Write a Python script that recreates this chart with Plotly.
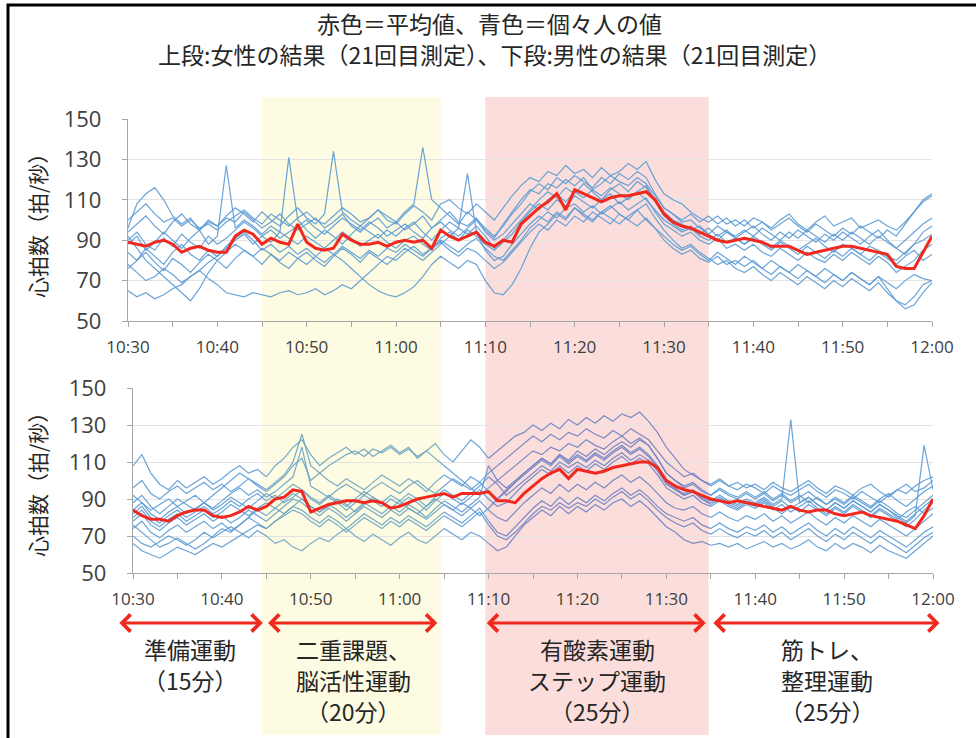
import plotly.graph_objects as go

# ---------------------------------------------------------------
# Heart-rate records, one value per minute from 10:30 (minute 0) to 12:00 (minute 90)
# ---------------------------------------------------------------
minutes = list(range(91))
tick_minutes = [0, 5, 10, 15, 20, 25, 30, 35, 40, 45, 50, 55, 60, 65, 70, 75, 80, 85, 90]
tick_labels = ["10:30", "", "10:40", "", "10:50", "", "11:00", "", "11:10", "",
               "11:20", "", "11:30", "", "11:40", "", "11:50", "", "12:00"]
y_ticks = [50, 70, 90, 110, 130, 150]

# Women (upper panel) – average
female_mean = [89, 88, 87, 89, 90, 88, 84, 86, 87, 85,
               84, 84, 92, 95, 93, 88, 91, 89, 88, 98,
               89, 86, 85, 86, 93, 90, 88, 88, 89, 87,
               89, 90, 89, 90, 86, 95, 92, 90, 92, 94,
               89, 87, 90, 89, 98, 102, 106, 109, 113, 105,
               115, 113, 111, 109, 111, 112, 112, 113, 114, 110,
               103, 99, 97, 96, 94, 92, 90, 89, 90, 91,
               90, 89, 87, 87, 87, 85, 83, 84, 85, 86,
               87, 87, 86, 85, 84, 83, 77, 76, 76, 84, 92]

# Women – individuals
female_01 = [100, 104, 108, 103, 99, 101, 97, 100, 96, 98,
             95, 99, 102, 105, 101, 98, 103, 100, 97, 101,
             104, 100, 98, 102, 106, 103, 99, 101, 105, 100,
             98, 103, 107, 104, 100, 108, 110, 106, 103, 108,
             104, 100, 106, 112, 117, 121, 119, 124, 122, 127,
             123, 125, 121, 126, 122, 124, 128, 125, 129, 120,
             113, 110, 108, 104, 101, 99, 102, 98, 100, 97,
             101, 99, 96, 100, 103, 98, 95, 99, 102, 97,
             99, 101, 96, 98, 100, 97, 95, 99, 104, 109, 112]
female_02 = [96, 108, 113, 116, 110, 102, 98, 101, 95, 99,
             97, 101, 99, 104, 100, 96, 99, 103, 98, 95,
             98, 101, 96, 99, 103, 97, 94, 98, 101, 96,
             99, 95, 98, 102, 96, 100, 104, 99, 97, 101,
             95, 91, 98, 104, 110, 115, 113, 118, 116, 120,
             117, 121, 115, 118, 122, 119, 117, 121, 118, 112,
             106, 103, 99, 100, 96, 93, 97, 94, 92, 95,
             92, 96, 93, 90, 94, 91, 95, 92, 89, 93,
             90, 94, 91, 88, 92, 89, 86, 90, 94, 98, 101]
female_03 = [90, 94, 88, 85, 91, 87, 93, 89, 86, 92,
             88, 91, 95, 99, 96, 92, 89, 94, 91, 88,
             92, 89, 86, 90, 94, 91, 87, 90, 93, 89,
             86, 90, 92, 88, 85, 91, 94, 90, 95, 92,
             88, 85, 89, 93, 99, 104, 108, 105, 110, 107,
             112, 109, 106, 110, 113, 108, 111, 114, 110, 105,
             100, 97, 94, 96, 92, 90, 93, 89, 91, 88,
             92, 89, 86, 90, 87, 85, 88, 91, 87, 84,
             88, 86, 83, 87, 85, 82, 80, 84, 88, 90, 93]
female_04 = [84, 80, 86, 82, 78, 84, 88, 83, 80, 85,
             82, 87, 91, 94, 90, 85, 88, 84, 87, 83,
             86, 82, 79, 83, 87, 84, 81, 85, 82, 86,
             84, 88, 85, 82, 86, 90, 87, 84, 88, 91,
             86, 82, 80, 85, 90, 96, 100, 104, 101, 106,
             108, 104, 107, 103, 106, 109, 105, 108, 111, 104,
             98, 95, 92, 94, 90, 88, 91, 86, 88, 85,
             88, 84, 82, 86, 83, 80, 84, 81, 79, 83,
             80, 84, 81, 78, 82, 79, 74, 77, 80, 85, 88]
female_05 = [65, 62, 64, 61, 63, 66, 68, 72, 75, 79,
             82, 86, 90, 93, 88, 92, 95, 91, 94, 97,
             100, 96, 93, 97, 101, 98, 95, 99, 96, 92,
             95, 98, 94, 91, 96, 99, 95, 92, 96, 100,
             94, 90, 93, 98, 103, 108, 105, 110, 113, 109,
             114, 111, 115, 112, 116, 113, 110, 114, 117, 110,
             104, 100, 98, 95, 97, 93, 90, 94, 91, 88,
             91, 88, 85, 89, 86, 83, 87, 84, 81, 85,
             82, 86, 83, 80, 84, 81, 78, 82, 85, 80, 83]
female_06 = [78, 74, 70, 72, 76, 73, 69, 72, 75, 71,
             68, 64, 63, 62, 64, 63, 62, 64, 65, 63,
             64, 66, 63, 65, 68, 66, 70, 74, 78, 82,
             80, 84, 87, 83, 86, 89, 85, 82, 86, 84,
             80, 76, 79, 84, 89, 94, 98, 95, 100, 97,
             102, 99, 104, 101, 98, 103, 100, 97, 101, 96,
             92, 88, 85, 87, 83, 80, 84, 81, 78, 82,
             79, 76, 80, 77, 74, 78, 75, 72, 76, 73,
             70, 74, 71, 68, 72, 66, 60, 58, 62, 68, 70]
female_07 = [92, 86, 80, 76, 72, 68, 64, 60, 66, 74,
             80, 84, 88, 85, 82, 86, 83, 80, 84, 81,
             78, 82, 86, 83, 80, 76, 72, 68, 65, 63,
             62, 64, 67, 72, 78, 82, 79, 76, 80, 78,
             70, 64, 63, 68, 76, 86, 94, 98, 103, 100,
             106, 102, 99, 104, 107, 103, 100, 105, 108, 101,
             95, 90, 86, 88, 84, 81, 78, 80, 76, 74,
             77, 73, 70, 74, 71, 68, 72, 69, 66, 70,
             67, 71, 68, 65, 69, 64, 60, 56, 58, 64, 69]
female_08 = [88, 92, 85, 89, 94, 90, 86, 91, 95, 88,
             92, 127, 96, 100, 97, 93, 97, 94, 131, 100,
             95, 91, 95, 92, 88, 93, 97, 94, 91, 95,
             92, 96, 99, 94, 90, 95, 99, 96, 93, 97,
             92, 86, 90, 95, 100, 105, 110, 114, 111, 116,
             113, 118, 114, 110, 115, 118, 114, 119, 116, 109,
             102, 98, 95, 97, 93, 96, 92, 95, 91, 94,
             97, 93, 90, 94, 91, 95, 92, 89, 93, 90,
             94, 91, 88, 92, 95, 90, 86, 83, 88, 94, 97]
female_09 = [94, 98, 102, 97, 93, 99, 103, 98, 95, 100,
             97, 102, 106, 103, 99, 104, 100, 97, 102, 106,
             101, 98, 103, 134, 104, 100, 97, 101, 105, 102,
             99, 104, 108, 136, 110, 106, 102, 98, 104, 100,
             96, 92, 97, 103, 108, 114, 118, 115, 121, 118,
             122, 119, 116, 121, 118, 123, 120, 124, 121, 113,
             106, 103, 100, 103, 99, 102, 98, 101, 97, 100,
             96, 99, 95, 98, 101, 97, 94, 98, 95, 92,
             96, 93, 97, 94, 91, 95, 92, 98, 104, 110, 113]
female_10 = [76, 80, 84, 79, 75, 81, 78, 74, 79, 83,
             80, 76, 81, 85, 82, 78, 83, 79, 76, 81,
             84, 80, 77, 82, 86, 83, 79, 84, 81, 78,
             82, 86, 83, 80, 84, 88, 92, 96, 123, 94,
             85, 80, 82, 88, 93, 98, 102, 99, 104, 101,
             106, 103, 100, 104, 101, 98, 102, 105, 100, 96,
             90, 86, 83, 85, 81, 79, 82, 78, 80, 77,
             80, 76, 73, 77, 74, 71, 75, 72, 69, 73,
             70, 74, 71, 68, 72, 69, 66, 70, 73, 71, 70]

# Men (lower panel) – average
male_mean = [84, 81, 79, 79, 78, 81, 83, 84, 84, 81,
             80, 81, 83, 86, 84, 86, 90, 91, 95, 94,
             83, 85, 87, 88, 89, 89, 88, 89, 88, 85,
             86, 88, 90, 91, 92, 93, 91, 93, 93, 93,
             94, 89, 89, 88, 93, 97, 101, 104, 106, 101,
             106, 105, 104, 105, 107, 108, 109, 110, 110, 107,
             100, 97, 95, 94, 92, 90, 89, 88, 89, 88,
             87, 86, 85, 84, 86, 84, 83, 84, 84, 82,
             81, 82, 83, 81, 80, 79, 78, 76, 74, 81, 90]

# Men – individuals
male_01 = [108, 114, 104, 98, 95, 100, 96, 99, 102, 98,
           101, 105, 108, 104, 106, 102, 108, 112, 118, 122,
           114, 108, 112, 115, 118, 114, 117, 113, 116, 119,
           115, 118, 112, 116, 120, 114, 110, 116, 122, 118,
           112, 116, 120, 124, 126, 130, 127, 131, 128, 133,
           130, 134, 131, 135, 132, 136, 134, 137, 132, 126,
           118, 112, 106, 103, 100, 98, 101, 97, 99, 96,
           98, 95, 99, 96, 94, 97, 100, 96, 93, 97,
           95, 92, 96, 98, 94, 91, 95, 93, 97, 100, 102]
male_02 = [96, 100, 93, 90, 94, 97, 93, 96, 99, 95,
           98, 94, 97, 101, 98, 95, 99, 103, 110, 125,
           108, 104, 100, 97, 101, 98, 95, 99, 103, 100,
           97, 101, 98, 94, 99, 103, 100, 97, 102, 99,
           104, 108, 112, 116, 120, 124, 121, 125, 122, 126,
           124, 128, 125, 123, 127, 124, 128, 125, 122, 116,
           110, 106, 102, 104, 100, 97, 100, 97, 95, 98,
           96, 93, 97, 94, 92, 95, 98, 94, 91, 95,
           93, 90, 94, 91, 88, 92, 95, 98, 94, 96, 100]
male_03 = [88, 92, 86, 82, 86, 90, 87, 84, 88, 92,
           96, 100, 104, 101, 97, 94, 98, 102, 108, 112,
           100, 104, 108, 111, 114, 116, 113, 117, 115, 118,
           114, 117, 113, 116, 112, 108, 104, 100, 96, 92,
           96, 100, 104, 108, 112, 116, 114, 118, 116, 120,
           118, 122, 119, 117, 121, 124, 120, 123, 119, 112,
           104, 100, 96, 98, 94, 92, 95, 92, 90, 93,
           90, 93, 89, 92, 88, 91, 94, 90, 87, 91,
           88, 92, 89, 86, 90, 93, 89, 86, 90, 94, 97]
male_04 = [92, 88, 84, 87, 90, 86, 89, 92, 88, 85,
           89, 93, 96, 92, 95, 91, 94, 98, 102, 118,
           97, 94, 91, 95, 98, 95, 92, 96, 99, 96,
           93, 97, 100, 96, 93, 97, 101, 98, 95, 99,
           94, 90, 94, 99, 104, 108, 112, 109, 114, 111,
           116, 113, 117, 114, 118, 121, 118, 122, 119, 112,
           104, 100, 97, 99, 95, 92, 96, 93, 91, 94,
           91, 94, 90, 93, 89, 92, 88, 91, 87, 90,
           87, 91, 88, 85, 89, 86, 82, 80, 84, 88, 92]
male_05 = [82, 86, 80, 77, 81, 84, 80, 83, 86, 82,
           85, 89, 86, 90, 93, 89, 92, 88, 91, 95,
           90, 87, 91, 88, 84, 88, 92, 89, 86, 90,
           87, 91, 88, 84, 89, 93, 90, 87, 91, 95,
           90, 86, 88, 93, 98, 102, 106, 103, 108, 104,
           108, 105, 109, 106, 110, 113, 109, 112, 109, 103,
           96, 93, 90, 92, 88, 86, 89, 86, 84, 87,
           85, 88, 84, 87, 83, 86, 89, 85, 82, 86,
           83, 87, 84, 81, 85, 82, 79, 83, 86, 82, 85]
male_06 = [78, 82, 76, 73, 77, 80, 76, 79, 82, 78,
           81, 77, 80, 84, 81, 78, 82, 86, 90, 88,
           84, 81, 85, 82, 78, 82, 86, 83, 80, 84,
           81, 85, 82, 79, 83, 87, 84, 81, 85, 89,
           84, 80, 78, 83, 88, 92, 96, 93, 98, 94,
           98, 95, 99, 96, 100, 103, 99, 102, 98, 93,
           88, 85, 84, 86, 82, 80, 83, 80, 78, 81,
           79, 82, 78, 81, 77, 80, 83, 79, 76, 80,
           77, 81, 78, 75, 79, 76, 73, 70, 74, 78, 82]
male_07 = [74, 78, 72, 69, 73, 76, 72, 75, 78, 74,
           77, 73, 76, 80, 77, 74, 78, 82, 86, 84,
           80, 77, 81, 78, 74, 78, 82, 79, 76, 80,
           77, 81, 78, 75, 79, 83, 80, 77, 81, 85,
           78, 72, 70, 75, 80, 85, 89, 86, 91, 87,
           91, 88, 92, 89, 93, 96, 92, 95, 91, 86,
           82, 80, 78, 80, 76, 74, 77, 74, 72, 75,
           73, 76, 72, 75, 71, 74, 77, 73, 70, 74,
           71, 75, 72, 69, 73, 70, 67, 64, 68, 72, 75]
male_08 = [66, 62, 60, 58, 61, 64, 62, 60, 63, 66,
           64, 67, 70, 73, 76, 74, 78, 81, 84, 82,
           78, 75, 79, 76, 72, 76, 80, 77, 74, 78,
           75, 79, 76, 73, 77, 81, 78, 75, 79, 83,
           76, 70, 68, 72, 77, 82, 86, 84, 88, 85,
           88, 86, 90, 87, 91, 94, 90, 93, 89, 84,
           80, 77, 75, 77, 73, 71, 74, 71, 69, 72,
           70, 73, 69, 72, 68, 71, 74, 70, 67, 71,
           68, 72, 69, 66, 70, 67, 64, 61, 65, 69, 72]
male_09 = [70, 66, 64, 67, 70, 68, 65, 68, 72, 69,
           72, 75, 72, 69, 73, 70, 66, 68, 64, 62,
           66, 69, 67, 71, 74, 70, 67, 71, 68, 65,
           69, 72, 68, 66, 70, 74, 71, 68, 72, 70,
           66, 62, 64, 70, 76, 80, 84, 81, 86, 82,
           86, 83, 87, 84, 88, 90, 86, 89, 85, 80,
           75, 72, 68, 66, 67, 65, 66, 64, 66, 63,
           65, 67, 64, 66, 63, 65, 68, 64, 62, 66,
           63, 66, 64, 61, 65, 62, 60, 58, 62, 66, 70]
male_10 = [84, 88, 82, 79, 83, 86, 82, 85, 88, 84,
           87, 91, 88, 85, 89, 93, 90, 94, 98, 95,
           91, 88, 92, 89, 86, 90, 94, 91, 88, 92,
           89, 93, 90, 86, 91, 95, 92, 89, 93, 97,
           102, 98, 92, 96, 100, 104, 108, 105, 110, 107,
           110, 107, 111, 108, 112, 115, 111, 114, 111, 105,
           98, 95, 93, 95, 91, 89, 92, 89, 87, 90,
           88, 91, 87, 90, 133, 88, 91, 87, 84, 88,
           85, 89, 86, 83, 87, 84, 81, 78, 82, 86, 90]
male_11 = [80, 84, 78, 75, 79, 82, 78, 81, 84, 80,
           83, 87, 84, 81, 85, 88, 85, 89, 93, 90,
           86, 83, 87, 84, 80, 84, 88, 85, 82, 86,
           83, 87, 84, 80, 85, 89, 86, 83, 87, 91,
           108, 100, 96, 100, 104, 108, 112, 109, 114, 110,
           114, 111, 115, 112, 116, 119, 115, 118, 114, 108,
           100, 96, 92, 94, 90, 88, 91, 88, 86, 89,
           87, 90, 86, 89, 85, 88, 91, 87, 84, 88,
           85, 89, 86, 83, 87, 84, 80, 77, 81, 119, 95]
male_12 = [76, 72, 68, 64, 66, 69, 66, 63, 66, 70,
           74, 72, 76, 80, 84, 81, 85, 82, 86, 90,
           86, 83, 86, 90, 87, 83, 87, 91, 88, 85,
           89, 85, 82, 86, 90, 87, 84, 88, 85, 81,
           85, 90, 95, 99, 103, 107, 111, 108, 113, 109,
           113, 110, 114, 111, 115, 118, 114, 117, 113, 107,
           99, 95, 92, 94, 90, 87, 90, 87, 85, 88,
           86, 89, 85, 82, 86, 83, 87, 84, 81, 85,
           82, 86, 83, 80, 84, 81, 78, 75, 79, 84, 88]

female_people = [female_01, female_02, female_03, female_04, female_05,
                 female_06, female_07, female_08, female_09, female_10]
male_people = [male_01, male_02, male_03, male_04, male_05, male_06,
               male_07, male_08, male_09, male_10, male_11, male_12]

# Programme phases (minutes after 10:30)
brain_phase = (15, 35)      # 二重課題・脳活性運動
aerobic_phase = (40, 65)    # 有酸素運動・ステップ運動
phase_lines = [["準備運動", "（15分）"],
               ["二重課題、", "脳活性運動", "（20分）"],
               ["有酸素運動", "ステップ運動", "（25分）"],
               ["筋トレ、", "整理運動", "（25分）"]]
arrow_starts = [-1.7, 15.2, 39.8, 65.3]
arrow_ends = [14.6, 34.4, 64.6, 90.9]

# ---------------------------------------------------------------
W, H = 976, 738
BLUE = "#5B9BD5"
BLUE_ON_YELLOW = "#6AA4C4"
BLUE_ON_PINK = "#6D80C4"
RED = "#F0281E"
YELLOW_BAND = "#FDFBE1"
PINK_BAND = "#FBDEDB"
AXIS_GREY = "#A6A6A6"
GRID_GREY = "#E3E3E3"
TEXT = "#262626"
TICK_TEXT = "#404040"
CJK = "Noto Sans CJK JP"


def px_x(p):
    return p / W


def px_y(p):
    return 1 - p / H


def window(values, keep):
    return [v if keep(m) else None for m, v in zip(minutes, values)]


fig = go.Figure()

# Upper panel: women
for person in female_people:
    fig.add_trace(go.Scatter(x=minutes, y=person, mode="lines",
                             line=dict(color=BLUE, width=1.2), opacity=0.9,
                             xaxis="x", yaxis="y", hoverinfo="skip"))
fig.add_trace(go.Scatter(x=minutes, y=female_mean, mode="lines",
                         line=dict(color=RED, width=3),
                         xaxis="x", yaxis="y", name="平均値"))

# Lower panel: men (lines take on the tint of the phase band they cross)
in_brain = lambda m: brain_phase[0] <= m <= brain_phase[1]
in_aerobic = lambda m: aerobic_phase[0] <= m <= aerobic_phase[1]
outside = lambda m: (m <= brain_phase[0] or brain_phase[1] <= m <= aerobic_phase[0]
                     or m >= aerobic_phase[1])
for person in male_people:
    for keep, colour in ((outside, BLUE), (in_brain, BLUE_ON_YELLOW),
                         (in_aerobic, BLUE_ON_PINK)):
        fig.add_trace(go.Scatter(x=minutes, y=window(person, keep), mode="lines",
                                 line=dict(color=colour, width=1.2), opacity=0.9,
                                 xaxis="x2", yaxis="y2", hoverinfo="skip"))
fig.add_trace(go.Scatter(x=minutes, y=male_mean, mode="lines",
                         line=dict(color=RED, width=3),
                         xaxis="x2", yaxis="y2", name="平均値"))

# Phase bands running through both panels
for (x0, x1), colour in ((brain_phase, YELLOW_BAND), (aerobic_phase, PINK_BAND)):
    fig.add_shape(type="rect", xref="x", yref="paper", x0=x0, x1=x1,
                  y0=px_y(735), y1=px_y(97), fillcolor=colour,
                  line=dict(width=0), layer="below")

# Outer frame (left and top edges visible)
fig.add_shape(type="rect", xref="paper", yref="paper", x0=px_x(8), x1=1.02,
              y0=-0.02, y1=px_y(5), line=dict(color="black", width=3),
              fillcolor="rgba(0,0,0,0)", layer="above")

xaxis_style = dict(range=[0, 90], tickmode="array", tickvals=tick_minutes,
                   ticktext=tick_labels, ticks="outside", ticklen=5,
                   tickcolor=AXIS_GREY, showline=True, linecolor=AXIS_GREY,
                   linewidth=1.3, showgrid=False, zeroline=False,
                   tickfont=dict(family="Open Sans", size=17, color=TICK_TEXT),
                   ticklabelstandoff=5, fixedrange=True, automargin=False)
yaxis_style = dict(range=[50, 150], tickmode="array", tickvals=y_ticks,
                   ticks="outside", ticklen=5, tickcolor=AXIS_GREY,
                   showline=True, linecolor=AXIS_GREY, linewidth=1.3,
                   showgrid=True, gridcolor=GRID_GREY, gridwidth=1,
                   zeroline=False,
                   tickfont=dict(family="Open Sans", size=22, color=TICK_TEXT),
                   ticklabelstandoff=16, fixedrange=True, automargin=False)

fig.update_layout(
    width=W, height=H, margin=dict(l=0, r=0, t=0, b=0, pad=0, autoexpand=False),
    paper_bgcolor="white", plot_bgcolor="rgba(0,0,0,0)", showlegend=False,
    xaxis=dict(domain=[px_x(128), px_x(932)], anchor="y", **xaxis_style),
    yaxis=dict(domain=[px_y(321), px_y(119)], anchor="x", **yaxis_style),
    xaxis2=dict(domain=[px_x(133), px_x(933)], anchor="y2", **xaxis_style),
    yaxis2=dict(domain=[px_y(573), px_y(388)], anchor="x2", **yaxis_style),
)

# Titles
fig.add_annotation(text="赤色＝平均値、青色＝個々人の値", xref="paper", yref="paper",
                   x=px_x(489), y=px_y(23), xanchor="center", yanchor="middle",
                   showarrow=False, borderpad=0,
                   font=dict(family=CJK, size=23, color=TEXT))
fig.add_annotation(text="上段:女性の結果（21回目測定）、下段:男性の結果（21回目測定）",
                   xref="paper", yref="paper", x=px_x(494), y=px_y(54),
                   xanchor="center", yanchor="middle", showarrow=False,
                   borderpad=0, font=dict(family=CJK, size=23, color=TEXT))

# Y-axis titles
for centre in (221, 480):
    fig.add_annotation(text="心拍数（拍/秒）", xref="paper", yref="paper",
                       x=px_x(37), y=px_y(centre), xanchor="center",
                       yanchor="middle", textangle=-90, showarrow=False,
                       font=dict(family=CJK, size=21, color=TEXT))

# Phase arrows and labels under the lower panel
for start, end, lines in zip(arrow_starts, arrow_ends, phase_lines):
    inside, tail = (end, start) if start < 0 else (start, end)
    fig.add_annotation(x=inside, ax=tail, xref="x2", axref="x2",
                       y=px_y(623), ay=0, yref="paper", ayref="pixel",
                       text="", showarrow=True, arrowside="end+start",
                       arrowhead=4, startarrowhead=4, arrowsize=1.1,
                       startarrowsize=1.1, arrowwidth=3, arrowcolor=RED,
                       standoff=0, startstandoff=0)
    for row, line_text in enumerate(lines):
        fig.add_annotation(text=line_text, xref="x2", yref="paper",
                           x=(start + end) / 2, y=px_y(649 + 31 * row),
                           xanchor="center", yanchor="middle",
                           showarrow=False, borderpad=0,
                           font=dict(family=CJK, size=23, color=TEXT))

fig.write_html("out.html")
